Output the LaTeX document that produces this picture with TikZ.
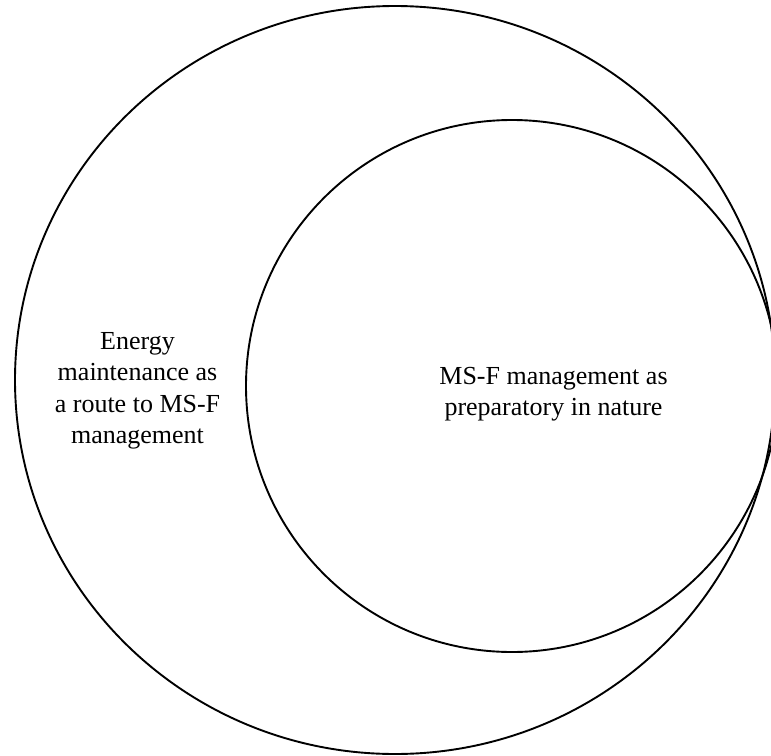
\documentclass[tikz,border=0pt]{standalone}
\usepackage{fontspec}
\setmainfont{Liberation Serif}
\usetikzlibrary{positioning, shapes.geometric}
\tikzset{
  ring/.style={draw, ellipse, line width=1.9pt, inner sep=0pt, outer sep=0pt},
  label text/.style={align=center, font=\fontsize{26}{31.5}\selectfont}
}

\begin{document}
\begin{tikzpicture}[x=1pt, y=-1pt]
  \useasboundingbox (0,0) rectangle (771,755);
  \clip (0,0) rectangle (771,755);
  % the two nested rings
  \node[ring, minimum width=760pt, minimum height=748pt] (outerRing) at (395,380) {};
  \node[ring, minimum size=532pt] (innerRing) at (512,386) {};
  % their labels
  \node[label text] (outerText) at (137.5,391) {Energy\\maintenance as\\a route to MS-F\\management};
  \node[label text] (innerText) at (553.5,394) {MS-F management as\\preparatory in nature};
\end{tikzpicture}
\end{document}
